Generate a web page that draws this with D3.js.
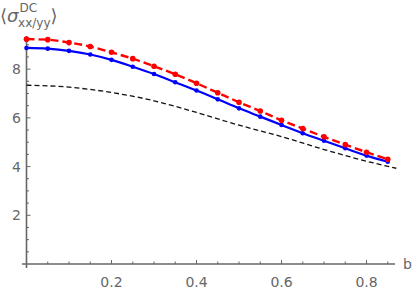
<!DOCTYPE html>
<html>
<head>
<script src="https://cdnjs.cloudflare.com/ajax/libs/d3/7.8.5/d3.min.js"></script>
<style>
  body { margin: 0; background: #fff; }
  svg { display: block; font-family: "DejaVu Sans", sans-serif; }
</style>
</head>
<body>
<div id="chart"></div>
<script>
    // sampled points, b = 0 .. 0.85 step 0.05
    var bValues = [0, 0.05, 0.1, 0.15, 0.2, 0.25, 0.3, 0.35, 0.4, 0.45, 0.5, 0.55, 0.6, 0.65, 0.7, 0.75, 0.8, 0.85];
    var redValues = [9.23, 9.21, 9.09, 8.93, 8.69, 8.43, 8.12, 7.79, 7.42, 7.03, 6.64, 6.28, 5.90, 5.56, 5.22, 4.90, 4.59, 4.30];
    var blueValues = [8.87, 8.84, 8.75, 8.60, 8.38, 8.10, 7.80, 7.46, 7.12, 6.76, 6.39, 6.05, 5.71, 5.37, 5.06, 4.75, 4.45, 4.20];

    // black dashed reference curve
    var refB = [0, 0.1, 0.2, 0.3, 0.4, 0.5, 0.6, 0.7, 0.8, 0.87];
    var refValues = [7.34, 7.26, 7.04, 6.70, 6.22, 5.70, 5.23, 4.70, 4.22, 3.93];

    var xTicks = [0.2, 0.4, 0.6, 0.8];
    var yTicks = [2, 4, 6, 8];

    var width = 415, height = 291;
    var svg = d3.select("#chart").append("svg")
        .attr("width", width)
        .attr("height", height);

    var x = d3.scaleLinear().domain([0, 0.867]).range([26.5, 395]);
    var y = d3.scaleLinear().domain([0, 9.36]).range([264, 36]);

    var axisColor = "#666";
    var textColor = "#666";

    // axes lines
    svg.append("line")
        .attr("x1", 22).attr("x2", x(0.867))
        .attr("y1", y(0)).attr("y2", y(0))
        .attr("stroke", axisColor).attr("stroke-width", 1.6);
    svg.append("line")
        .attr("x1", x(0)).attr("x2", x(0))
        .attr("y1", y(0) + 4).attr("y2", y(9.36))
        .attr("stroke", axisColor).attr("stroke-width", 1.6);

    // x ticks (minor every 0.05, major every 0.2)
    var xMinor = d3.range(0.05, 0.86, 0.05);
    svg.selectAll(".xt").data(xMinor).enter().append("line")
        .attr("x1", function (d) { return x(d); })
        .attr("x2", function (d) { return x(d); })
        .attr("y1", y(0))
        .attr("y2", function (d) { return xTicks.some(function (t) { return Math.abs(t - d) < 1e-6; }) ? y(0) - 4 : y(0) - 2.5; })
        .attr("stroke", axisColor).attr("stroke-width", 1);

    // y ticks (minor every 0.5)
    var yMinor = d3.range(0.5, 9.3, 0.5);
    svg.selectAll(".yt").data(yMinor).enter().append("line")
        .attr("y1", function (d) { return y(d); })
        .attr("y2", function (d) { return y(d); })
        .attr("x1", x(0))
        .attr("x2", function (d) { return d % 2 === 0 ? x(0) + 4 : x(0) + 2.5; })
        .attr("stroke", axisColor).attr("stroke-width", 1);

    svg.selectAll(".xl").data(xTicks).enter().append("text")
        .attr("x", function (d) { return x(d); })
        .attr("y", 287)
        .attr("text-anchor", "middle")
        .attr("fill", textColor)
        .style("font-size", "14px")
        .text(function (d) { return d.toFixed(1); });

    svg.selectAll(".yl").data(yTicks).enter().append("text")
        .attr("x", 21)
        .attr("y", function (d) { return y(d) + 5; })
        .attr("text-anchor", "end")
        .attr("fill", textColor)
        .style("font-size", "14px")
        .text(function (d) { return d; });

    svg.append("text")
        .attr("x", 403).attr("y", 269)
        .attr("fill", textColor)
        .style("font-size", "14px")
        .text("b");

    // y label
    var lab = svg.append("text")
        .attr("x", 0).attr("y", 22)
        .attr("fill", textColor)
        .style("font-size", "18px");
    lab.append("tspan").text("\u27E8");
    lab.append("tspan").style("font-style", "italic").text("\u03C3");
    lab.append("tspan").attr("dy", -10).attr("dx", 1).style("font-size", "12px").text("DC");
    lab.append("tspan").attr("dy", 15).attr("dx", -19).style("font-size", "12px").text("xx/yy");
    lab.append("tspan").attr("dy", -5).text("\u27E9");

    // black dashed curve
    var refLine = d3.line()
        .x(function (d, i) { return x(refB[i]); })
        .y(function (d) { return y(d); })
        .curve(d3.curveMonotoneX);
    svg.append("path")
        .attr("d", refLine(refValues))
        .attr("fill", "none")
        .attr("stroke", "#111")
        .attr("stroke-width", 1.3)
        .attr("stroke-dasharray", "5,3");

    var line = d3.line()
        .x(function (d, i) { return x(bValues[i]); })
        .y(function (d) { return y(d); })
        .curve(d3.curveMonotoneX);

    // blue solid
    svg.append("path")
        .attr("d", line(blueValues))
        .attr("fill", "none")
        .attr("stroke", "#0000ff")
        .attr("stroke-width", 2.2);
    svg.selectAll(".bd").data(blueValues).enter().append("circle")
        .attr("cx", function (d, i) { return x(bValues[i]); })
        .attr("cy", function (d) { return y(d); })
        .attr("r", 2.3)
        .attr("fill", "#0000ff");

    // red dashed
    svg.append("path")
        .attr("d", line(redValues))
        .attr("fill", "none")
        .attr("stroke", "#ff0000")
        .attr("stroke-width", 2.4)
        .attr("stroke-dasharray", "8,4");
    svg.selectAll(".rd").data(redValues).enter().append("circle")
        .attr("cx", function (d, i) { return x(bValues[i]); })
        .attr("cy", function (d) { return y(d); })
        .attr("r", 2.8)
        .attr("fill", "#ff0000");
</script>
</body>
</html>
